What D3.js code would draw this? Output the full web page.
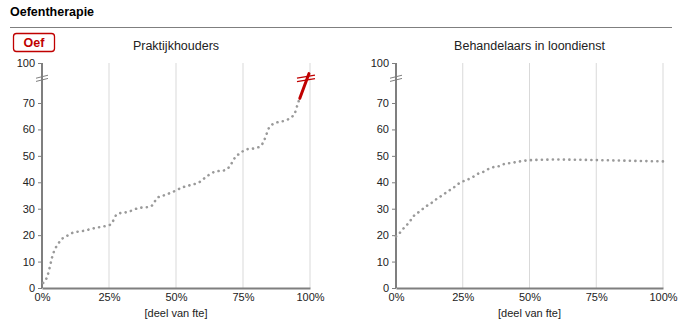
<!DOCTYPE html>
<html><head><meta charset="utf-8">
<script src="https://cdn.jsdelivr.net/npm/d3@7"></script>
<style>
body{margin:0;background:#fff;}
svg{display:block;font-family:"Liberation Sans",Arial,sans-serif;}
</style></head>
<body>
<svg id="c" width="683" height="324"></svg>
<script>
const title = "Oefentherapie";
const badge = "Oef";
const panelTitles = ["Praktijkhouders", "Behandelaars in loondienst"];
const xLabel = "[deel van fte]";
const xTicks = [0, 0.25, 0.5, 0.75, 1];
const yTicks = [0, 10, 20, 30, 40, 50, 60, 70, 100];
const yBreakValue = 88.5;

// Praktijkhouders (cumulative share of fte vs hours)
const leftX = [0.004,0.019,0.03,0.037,0.049,0.06,0.075,0.093,0.112,0.153,0.198,0.239,0.254,0.261,0.269,0.28,0.321,0.362,0.403,0.418,0.429,0.448,0.489,0.53,0.571,0.59,0.608,0.623,0.642,0.687,0.701,0.713,0.724,0.739,0.757,0.799,0.817,0.828,0.836,0.843,0.854,0.873,0.914,0.933,0.944,0.951,0.958];
const leftY = [1.9,4.2,8.3,11.4,14.8,16.7,18.6,19.7,20.8,21.6,22.7,23.5,23.9,24.6,26.1,28.0,28.8,30.3,30.7,32.2,34.1,34.8,36.4,38.3,39.4,40.2,41.7,42.8,43.9,44.7,46.2,48.1,50.0,50.8,52.3,53.0,53.8,55.7,57.6,59.8,61.4,62.5,63.6,64.8,66.3,68.6,71.5];
// red tail beyond the axis break
const tailX = [0.962, 0.996];
const tailY = [73.5, 92];

// Behandelaars in loondienst
const rightX = [0,0.011,0.026,0.041,0.056,0.067,0.086,0.105,0.12,0.139,0.157,0.176,0.191,0.21,0.228,0.247,0.266,0.288,0.307,0.326,0.348,0.367,0.39,0.408,0.43,0.453,0.476,0.494,0.536,0.6,0.7,0.8,0.9,1.0];
const rightY = [19.5,20.5,22.3,23.9,25.8,27.3,28.8,30.3,31.4,32.6,34.1,35.2,36.4,37.5,39.0,40.2,40.9,42.0,43.2,43.9,45.1,45.8,46.2,47.0,47.3,47.7,48.1,48.3,48.5,48.6,48.5,48.3,48.1,47.9];

const svg = d3.select("#c");
const red = "#c00000", axisCol = "#7f7f7f", gridCol = "#d9d9d9", dotCol = "#9a9a9a";

svg.append("text").attr("x", 10).attr("y", 16).attr("font-size", 12.5).attr("font-weight", "bold").text(title);
svg.append("line").attr("x1", 10).attr("x2", 672).attr("y1", 27.5).attr("y2", 27.5).attr("stroke", axisCol).attr("stroke-width", 1);
svg.append("rect").attr("x", 13.5).attr("y", 33.5).attr("width", 41).attr("height", 18).attr("rx", 3)
  .attr("fill", "#fff").attr("stroke", red).attr("stroke-width", 1.3);
svg.append("text").attr("x", 34).attr("y", 47).attr("text-anchor", "middle").attr("font-size", 12.5)
  .attr("font-weight", "bold").attr("fill", red).text(badge);

const panels = [
  {x0: 42, x1: 310, xs: leftX, ys: leftY, tail: true},
  {x0: 396, x1: 663, xs: rightX, ys: rightY, tail: false}
];

panels.forEach((p, i) => {
  const g = svg.append("g");
  const x = d3.scaleLinear().domain([0, 1]).range([p.x0, p.x1]);
  const y = d3.scaleLinear().domain([0, 70, 100]).range([288, 103, 63]);

  g.append("text").attr("x", (p.x0 + p.x1) / 2).attr("y", 50).attr("text-anchor", "middle")
    .attr("font-size", 12.5).attr("fill", "#222").text(panelTitles[i]);

  // gridlines
  g.selectAll(".grid").data(xTicks.slice(1)).join("line")
    .attr("x1", d => x(d)).attr("x2", d => x(d)).attr("y1", y(100)).attr("y2", y(0))
    .attr("stroke", gridCol).attr("stroke-width", 1);

  // y axis
  const ya = g.append("g").attr("transform", `translate(${p.x0},0)`)
    .call(d3.axisLeft(y).tickValues(yTicks).tickSize(4).tickPadding(3));
  ya.select(".domain").attr("stroke", axisCol).attr("stroke-width", 2).attr("d", `M0,${y(100)}V${y(0)}`);
  ya.selectAll(".tick line").attr("stroke", axisCol);
  ya.selectAll(".tick text").attr("font-size", 11).attr("fill", "#222").attr("font-family", "Liberation Sans, Arial, sans-serif");

  // y break marks
  const yb = y(yBreakValue);
  [-1.6, 1.6].forEach(o => {
    g.append("line").attr("x1", p.x0 - 6).attr("x2", p.x0 + 6)
      .attr("y1", yb + o + 1.5).attr("y2", yb + o - 1.5).attr("stroke", axisCol).attr("stroke-width", 1);
  });

  // x axis
  const xa = g.append("g").attr("transform", `translate(0,${y(0)})`)
    .call(d3.axisBottom(x).tickValues(xTicks).tickFormat(d3.format(".0%")).tickSize(0).tickPadding(5));
  xa.select(".domain").attr("stroke", axisCol).attr("stroke-width", 2);
  xa.selectAll(".tick text").attr("font-size", 11).attr("fill", "#222").attr("font-family", "Liberation Sans, Arial, sans-serif");

  g.append("text").attr("x", (p.x0 + p.x1) / 2).attr("y", 317).attr("text-anchor", "middle")
    .attr("font-size", 11).attr("fill", "#222").text(xLabel);

  // dotted curve
  const data = p.xs.map((v, k) => [v, p.ys[k]]);
  const line = d3.line().x(d => x(d[0])).y(d => y(d[1])).curve(d3.curveMonotoneX);
  g.append("path").datum(data).attr("d", line).attr("fill", "none")
    .attr("stroke", dotCol).attr("stroke-width", 2.6).attr("stroke-linecap", "round")
    .attr("stroke-dasharray", "0.1,5.4");

  if (p.tail) {
    const td = tailX.map((v, k) => [v, tailY[k]]);
    g.append("path").datum(td).attr("d", d3.line().x(d => x(d[0])).y(d => y(d[1])))
      .attr("fill", "none").attr("stroke", red).attr("stroke-width", 3).attr("stroke-linecap", "round");
    const xc = x(0.985);
    [-1.8, 1.8].forEach(o => {
      g.append("line").attr("x1", xc - 9).attr("x2", xc + 9)
        .attr("y1", yb + o + 1.5).attr("y2", yb + o - 1.5).attr("stroke", red).attr("stroke-width", 1.3);
    });
  }
});
</script>
</body></html>
